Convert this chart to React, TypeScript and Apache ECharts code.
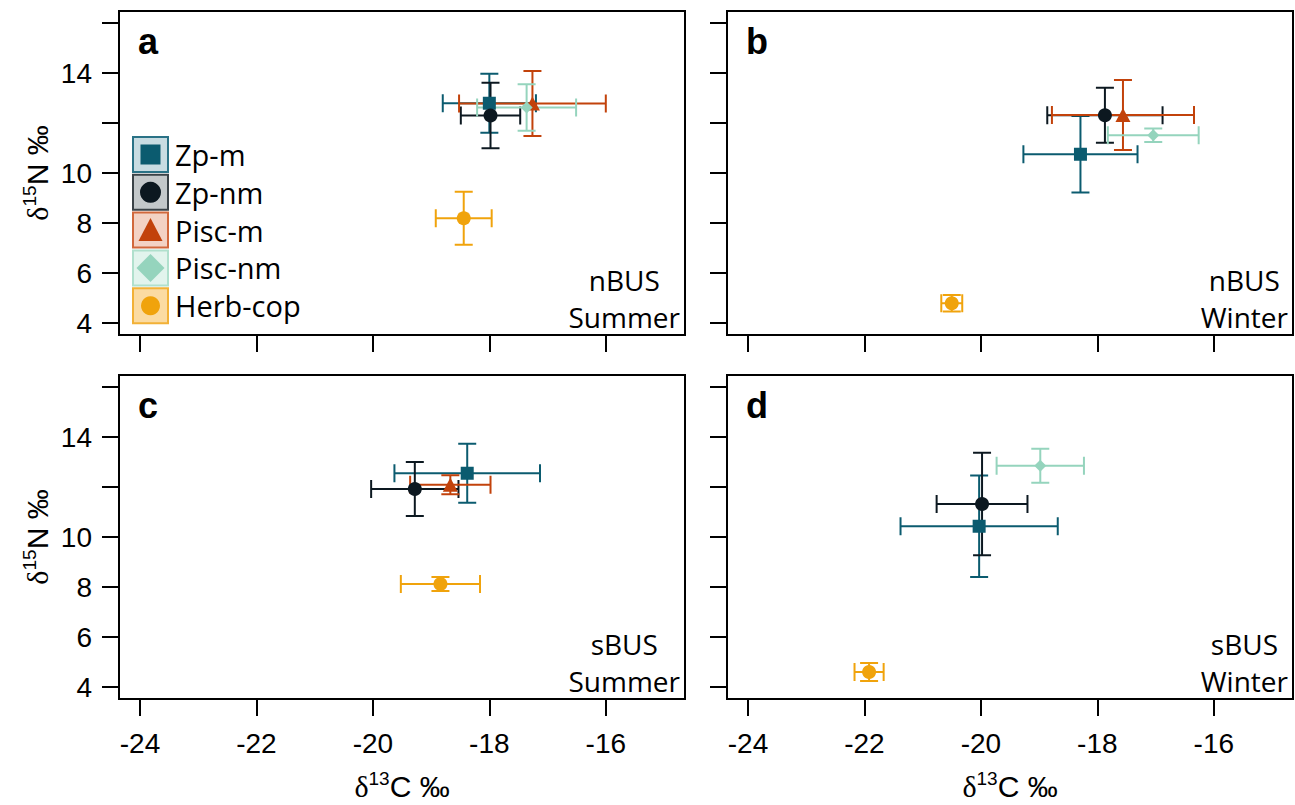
import React, { useEffect, useRef } from 'react';
import * as echarts from 'echarts';

// ---------- data ----------
const species = ['Zp-m', 'Zp-nm', 'Pisc-m', 'Pisc-nm', 'Herb-cop'];
const panelLetters = ['a', 'b', 'c', 'd'];
const regionLabels = [['nBUS', 'Summer'], ['nBUS', 'Winter'], ['sBUS', 'Summer'], ['sBUS', 'Winter']];
const xTicks = [-24, -22, -20, -18, -16];
const yTicks = [4, 6, 8, 10, 12, 14, 16];
const yTickLabels = [4, 6, 8, 10, 14];
const xLim = [-24, -15];
const yLim = [4, 16];

// nBUS Summer (a)
const nbusSummerC = [-18.0, -17.98, -17.26, -17.36, -18.44];
const nbusSummerCsd = [0.8, 0.51, 1.26, 0.85, 0.48];
const nbusSummerN = [12.79, 12.3, 12.78, 12.62, 8.19];
const nbusSummerNsd = [1.18, 1.31, 1.3, 0.93, 1.06];
// nBUS Winter (b)
const nbusWinterC = [-18.29, -17.87, -17.56, -17.04, -20.5];
const nbusWinterCsd = [0.98, 0.99, 1.22, 0.78, 0.18];
const nbusWinterN = [10.75, 12.31, 12.32, 11.51, 4.79];
const nbusWinterNsd = [1.53, 1.1, 1.4, 0.27, 0.33];
// sBUS Summer (c)
const sbusSummerC = [-18.38, -19.28, -18.67, null, -18.84];
const sbusSummerCsd = [1.25, 0.75, 0.69, null, 0.68];
const sbusSummerN = [12.55, 11.92, 12.09, null, 8.12];
const sbusSummerNsd = [1.18, 1.08, 0.38, null, 0.28];
// sBUS Winter (d)
const sbusWinterC = [-20.03, -19.98, null, -18.98, -21.92];
const sbusWinterCsd = [1.35, 0.78, null, 0.75, 0.25];
const sbusWinterN = [10.43, 11.32, null, 12.85, 4.6];
const sbusWinterNsd = [2.03, 2.05, null, 0.68, 0.36];

// ---------- styles ----------
const colors = ['#0b5b6f', '#0c1820', '#c2420b', '#95d4bd', '#f0a30c'];
const legendFill = ['#c8dce2', '#c3c8ca', '#f3d2c4', '#e2f4ed', '#fbdba2'];
const legendStroke = ['#2a7286', '#3a4247', '#d1683c', '#b0e0cd', '#f2b137'];
const symbols = ['rect', 'circle', 'triangle', 'diamond', 'circle'];
const symbolSizes: any[] = [13, 14, [15, 14], 12, 14];

const W = 566;
const H = 324;
const gridPos = [
  { left: 119, top: 11 },
  { left: 727, top: 11 },
  { left: 119, top: 375 },
  { left: 727, top: 375 },
];

const pad = (lim: number[]) => {
  const d = (lim[1] - lim[0]) * 0.04;
  return [lim[0] - d, lim[1] + d];
};

function buildOption() {
  const panels = [
    [nbusSummerC, nbusSummerCsd, nbusSummerN, nbusSummerNsd],
    [nbusWinterC, nbusWinterCsd, nbusWinterN, nbusWinterNsd],
    [sbusSummerC, sbusSummerCsd, sbusSummerN, sbusSummerNsd],
    [sbusWinterC, sbusWinterCsd, sbusWinterN, sbusWinterNsd],
  ];
  const xr = pad(xLim);
  const yr = pad(yLim);
  const tickFont = { fontSize: 28, fontFamily: 'Liberation Sans, Arial, sans-serif', color: '#000' };

  const grid = gridPos.map((g) => ({
    left: g.left, top: g.top, width: W, height: H,
    show: true, borderColor: '#000', borderWidth: 2, backgroundColor: 'transparent',
  }));
  const xAxis = gridPos.map((_, i) => ({
    type: 'value', gridIndex: i, min: xr[0], max: xr[1],
    axisLine: { show: false, onZero: false },
    splitLine: { show: false },
    axisTick: { show: true, inside: false, length: 17, lineStyle: { color: '#000', width: 2 }, customValues: xTicks },
    axisLabel: { show: i >= 2, customValues: xTicks, margin: 30, ...tickFont },
  }));
  const yAxis = gridPos.map((_, i) => ({
    type: 'value', gridIndex: i, min: yr[0], max: yr[1],
    axisLine: { show: false, onZero: false },
    splitLine: { show: false },
    axisTick: { show: true, inside: false, length: 17, lineStyle: { color: '#000', width: 2 }, customValues: yTicks },
    axisLabel: { show: i % 2 === 0, customValues: yTickLabels, margin: 27, ...tickFont },
  }));

  const series: any[] = [];
  panels.forEach((p, pi) => {
    species.forEach((name, si) => {
      const cx = p[0][si];
      if (cx === null || cx === undefined) return;
      const row = [cx, p[2][si], p[1][si], p[3][si]];
      const color = colors[si];
      series.push({
        type: 'custom', name, xAxisIndex: pi, yAxisIndex: pi,
        coordinateSystem: 'cartesian2d',
        encode: { x: 0, y: 1 },
        data: [row],
        silent: true,
        renderItem: (params: any, api: any) => {
          const x = api.value(0), y = api.value(1), sx = api.value(2), sy = api.value(3);
          const l = api.coord([x - sx, y]);
          const r = api.coord([x + sx, y]);
          const t = api.coord([x, y + sy]);
          const b = api.coord([x, y - sy]);
          const cap = 9;
          const style = { stroke: color, lineWidth: 2 };
          const ln = (x1: number, y1: number, x2: number, y2: number) => ({ type: 'line', shape: { x1, y1, x2, y2 }, style });
          return {
            type: 'group',
            children: [
              ln(l[0], l[1], r[0], r[1]),
              ln(l[0], l[1] - cap, l[0], l[1] + cap),
              ln(r[0], r[1] - cap, r[0], r[1] + cap),
              ln(t[0], t[1], b[0], b[1]),
              ln(t[0] - cap, t[1], t[0] + cap, t[1]),
              ln(b[0] - cap, b[1], b[0] + cap, b[1]),
            ],
          };
        },
      });
      series.push({
        type: 'scatter', name, xAxisIndex: pi, yAxisIndex: pi,
        data: [[row[0], row[1]]],
        symbol: symbols[si], symbolSize: symbolSizes[si],
        itemStyle: { color, opacity: 1 },
        silent: true,
      });
    });
  });

  // ---- graphics: legend, letters, region labels, axis titles ----
  const graphic: any[] = [];
  const legX = 133, legY = 137, box = 35, step = 37.8;
  species.forEach((name, i) => {
    const y0 = legY + i * step;
    graphic.push({
      type: 'rect', x: legX, y: y0, shape: { x: 0, y: 0, width: box, height: box },
      style: { fill: legendFill[i], stroke: legendStroke[i], lineWidth: 2 },
    });
    const c = colors[i];
    const mx = legX + box / 2, my = y0 + box / 2;
    if (symbols[i] === 'rect') {
      graphic.push({ type: 'rect', shape: { x: mx - 10, y: my - 10, width: 20, height: 20 }, style: { fill: c } });
    } else if (symbols[i] === 'circle') {
      graphic.push({ type: 'circle', shape: { cx: mx, cy: my, r: i === 4 ? 9.5 : 10.5 }, style: { fill: c } });
    } else if (symbols[i] === 'triangle') {
      graphic.push({ type: 'polygon', shape: { points: [[mx, my - 12], [mx + 12, my + 11], [mx - 12, my + 11]] }, style: { fill: c } });
    } else if (symbols[i] === 'diamond') {
      graphic.push({ type: 'polygon', shape: { points: [[mx, my - 14], [mx + 14, my], [mx, my + 14], [mx - 14, my]] }, style: { fill: c } });
    }
    graphic.push({
      type: 'text', x: legX + 42, y: my,
      style: { text: name, fill: '#000', font: '29px "Open Sans", sans-serif', align: 'left', verticalAlign: 'middle' },
    });
  });

  const canvas = document.createElement('canvas');
  const ctx = canvas.getContext('2d') as CanvasRenderingContext2D;
  const regionFont = '28px "Open Sans", sans-serif';
  ctx.font = regionFont;

  gridPos.forEach((g, i) => {
    graphic.push({
      type: 'text', x: g.left + 19, y: g.top + 30,
      style: { text: panelLetters[i], fill: '#000', font: 'bold 36px "Liberation Sans", Arial, sans-serif', align: 'left', verticalAlign: 'middle' },
    });
    const lines = regionLabels[i];
    const maxW = Math.max(...lines.map((s) => ctx.measureText(s).width));
    graphic.push({
      type: 'text', x: g.left + W - 5 - maxW / 2, y: g.top + H,
      style: { text: lines.join('\n'), fill: '#000', font: regionFont, align: 'center', verticalAlign: 'bottom', lineHeight: 37 },
    });
  });

  const richTitle = (sup: string, rest: string) => ({
    text: `{d|δ}{s|${sup}}{t|${rest}}`,
    rich: {
      d: { fontFamily: 'Liberation Serif, serif', fontSize: 30, lineHeight: 34, color: '#000' },
      s: { fontFamily: 'Liberation Sans, Arial, sans-serif', fontSize: 19, lineHeight: 19, verticalAlign: 'top', color: '#000' },
      t: { fontFamily: 'Liberation Sans, Arial, sans-serif', fontSize: 30, lineHeight: 34, color: '#000' },
    },
    align: 'center', verticalAlign: 'middle', fill: '#000',
  });
  [0, 2].forEach((i) => {
    const g = gridPos[i];
    graphic.push({ type: 'text', x: 37, y: g.top + H / 2, rotation: Math.PI / 2, style: richTitle('15', 'N ‰') });
  });
  [2, 3].forEach((i) => {
    const g = gridPos[i];
    graphic.push({ type: 'text', x: g.left + W / 2, y: 786, style: richTitle('13', 'C ‰') });
  });

  return { animation: false, backgroundColor: '#fff', grid, xAxis, yAxis, series, graphic };
}

export default function App() {
  const ref = useRef<HTMLDivElement>(null);
  useEffect(() => {
    if (!ref.current) return;
    const chart = echarts.init(ref.current, undefined, { renderer: 'svg' });
    chart.setOption(buildOption() as any);
    return () => chart.dispose();
  }, []);
  return <div ref={ref} style={{ position: 'absolute', left: 0, top: 0, width: 1295, height: 805 }} />;
}
